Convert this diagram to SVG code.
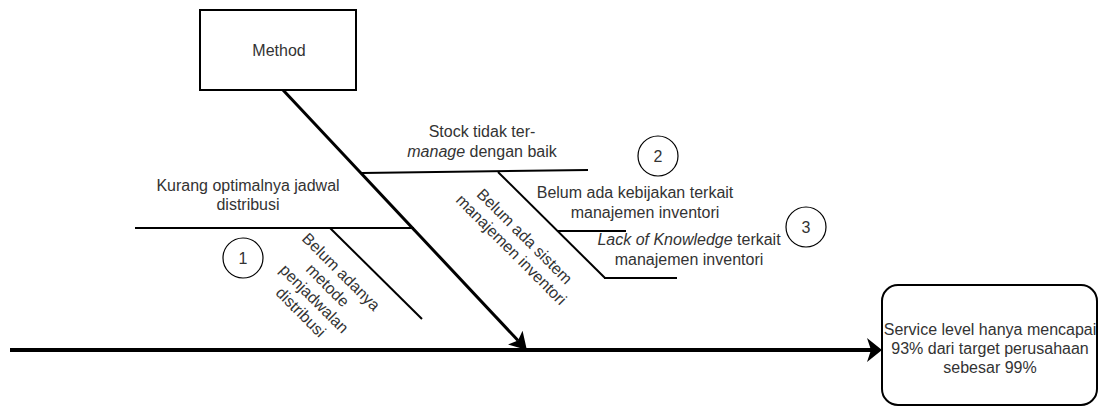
<svg xmlns="http://www.w3.org/2000/svg" width="1099" height="408" viewBox="0 0 1099 408">
  <style>
    .t { font-family: "Liberation Sans", Arial, sans-serif; font-size: 16px; fill: #333333; }
    .c { text-anchor: middle; }
    .i { font-style: italic; }
    .ln { stroke: #000000; fill: none; }
    .box { fill: #ffffff; stroke: #000000; stroke-width: 2; }
    .circ { fill: #ffffff; stroke: #000000; stroke-width: 1.2; }
  </style>
  <defs>
    <marker id="arrowBig" markerUnits="userSpaceOnUse" viewBox="0 0 16 26" markerWidth="16" markerHeight="26" refX="4" refY="13" orient="auto">
      <path d="M0,1 L15,13 L0,25 L4,13 Z" fill="#000000"/>
    </marker>
    <marker id="arrowMid" markerUnits="userSpaceOnUse" viewBox="0 0 18 22" markerWidth="18" markerHeight="22" refX="4" refY="11" orient="auto">
      <path d="M0,1 L17,11 L0,21 L4,11 Z" fill="#000000"/>
    </marker>
  </defs>
  <rect width="1099" height="408" fill="#ffffff"/>

  <g id="connectors">
    <line class="ln" x1="10" y1="350" x2="871" y2="350" stroke-width="4" marker-end="url(#arrowBig)"/>
    <line class="ln" x1="283" y1="90" x2="518" y2="340.5" stroke-width="3" marker-end="url(#arrowMid)"/>
    <line class="ln" x1="135" y1="228" x2="414" y2="228" stroke-width="2"/>
    <line class="ln" x1="330" y1="228" x2="422" y2="319" stroke-width="2"/>
    <line class="ln" x1="362" y1="173" x2="588" y2="170" stroke-width="2"/>
    <line class="ln" x1="498" y1="172" x2="605" y2="278" stroke-width="2"/>
    <line class="ln" x1="557" y1="231" x2="626" y2="231" stroke-width="2"/>
    <line class="ln" x1="604" y1="278" x2="677" y2="278" stroke-width="2"/>
  </g>

  <g id="method">
    <rect class="box" x="200" y="10" width="156" height="80"/>
    <text class="t c" x="279" y="56">Method</text>
  </g>

  <g id="effect">
    <rect class="box" x="882" y="285" width="215" height="120" rx="16" ry="16"/>
    <text class="t c" x="990" y="335">Service level hanya mencapai</text>
    <text class="t c" x="990" y="354">93% dari target perusahaan</text>
    <text class="t c" x="990" y="373">sebesar 99%</text>
  </g>

  <g id="cause-jadwal">
    <text class="t c" x="248" y="191">Kurang optimalnya jadwal</text>
    <text class="t c" x="248" y="210">distribusi</text>
  </g>

  <g id="cause-metode">
    <g transform="translate(321,292) rotate(45)">
      <text class="t c" x="0" y="-23">Belum adanya</text>
      <text class="t c" x="0" y="-4">metode</text>
      <text class="t c" x="0" y="15">penjadwalan</text>
      <text class="t c" x="0" y="34">distribusi</text>
    </g>
  </g>

  <g id="cause-stock">
    <text class="t c" x="482" y="137">Stock tidak ter-</text>
    <text class="t c" x="482" y="157"><tspan class="i">manage</tspan> dengan baik</text>
  </g>

  <g id="cause-sistem">
    <g transform="translate(518,243) rotate(45)">
      <text class="t c" x="0" y="-4">Belum ada sistem</text>
      <text class="t c" x="0" y="15">manajemen inventori</text>
    </g>
  </g>

  <g id="cause-kebijakan">
    <text class="t c" x="635" y="198">Belum ada kebijakan terkait</text>
    <text class="t c" x="645" y="218">manajemen inventori</text>
  </g>

  <g id="cause-knowledge">
    <text class="t c" x="689" y="245"><tspan class="i">Lack of Knowledge</tspan> terkait</text>
    <text class="t c" x="689" y="265">manajemen inventori</text>
  </g>

  <g id="marker-1">
    <circle class="circ" cx="243" cy="258" r="20"/>
    <text class="t c" x="243" y="264">1</text>
  </g>
  <g id="marker-2">
    <circle class="circ" cx="658" cy="156" r="20"/>
    <text class="t c" x="658" y="162">2</text>
  </g>
  <g id="marker-3">
    <circle class="circ" cx="806" cy="227" r="20"/>
    <text class="t c" x="806" y="233">3</text>
  </g>
</svg>
